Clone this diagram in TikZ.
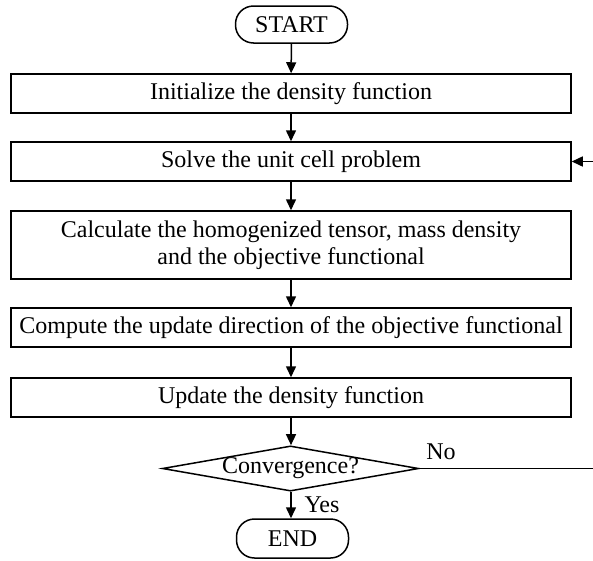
\documentclass[tikz,border=0pt]{standalone}
\usepackage{fontspec}
\setmainfont{Liberation Serif}
\usetikzlibrary{shapes.geometric,arrows.meta}
\begin{document}
\begin{tikzpicture}[x=1pt,y=-1pt,
  txt/.style={font=\fontsize{24}{27}\selectfont},
  box/.style={txt,draw,line width=1.5pt,minimum width=560pt,inner sep=0pt,align=center},
  term/.style={txt,draw,line width=1.5pt,rounded corners=18pt,minimum width=112pt,minimum height=37pt,inner sep=0pt},
  decision/.style={txt,draw,line width=1.5pt,shape=diamond,shape aspect=5.67,minimum width=255pt,minimum height=45pt,inner sep=0pt},
  arr/.style={-{Triangle[length=11pt,width=10pt]},line width=1.5pt}]
\useasboundingbox (0,0) rectangle (593,560);
\node[term] (start) at (291.5,24.5) {START};
\node[box,minimum height=39pt] (b1) at (291,93.5) {Initialize the density function};
\node[box,minimum height=39pt] (b2) at (291,161.5) {Solve the unit cell problem};
\node[box,minimum height=68pt] (b3) at (291,245) {Calculate the homogenized tensor, mass density\\and the objective functional};
\node[box,minimum height=39pt] (b4) at (291,327.5) {Compute the update direction of the objective functional};
\node[box,minimum height=39pt] (b5) at (291,397.5) {Update the density function};
\node[decision] (dec) at (290.5,468.5) {Convergence?};
\node[term,minimum height=39pt] (stop) at (292.5,538.5) {END};
\node[txt] (no) at (441,452) {No};
\node[txt] (yes) at (322,505) {Yes};
\coordinate (c1) at (594.5,468.5);
\coordinate (c2) at (594.5,161.5);
\draw[arr] (start) -- (b1);
\draw[arr] (b1) -- (b2);
\draw[arr] (b2) -- (b3);
\draw[arr] (b3) -- (b4);
\draw[arr] (b4) -- (b5);
\draw[arr] (b5) -- (b5.south |- dec.north);
\draw[arr] (dec.south -| b5.south) -- (stop.north -| b5.south);
\draw[arr] (dec.east) -- (c1) -- (c2) -- (b2.east);
\end{tikzpicture}
\end{document}
